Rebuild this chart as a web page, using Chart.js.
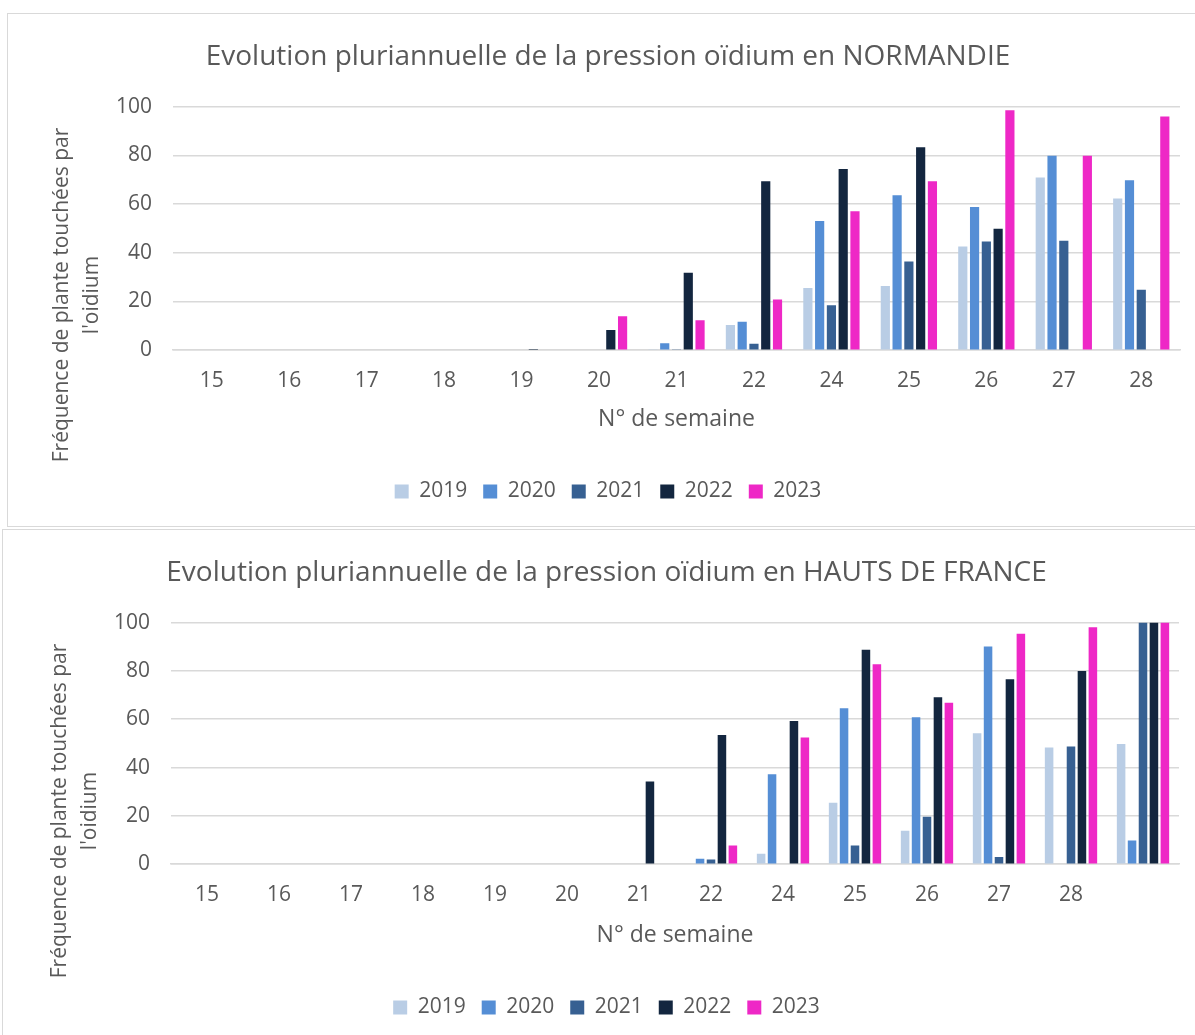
<!DOCTYPE html>
<html>
<head>
<meta charset="utf-8">
<script src="https://cdn.jsdelivr.net/npm/chart.js@4.4.1/dist/chart.umd.min.js"></script>
<style>
  body { margin: 0; background: #fff; width: 1195px; height: 1035px; overflow: hidden; position: relative; }
  .box { position: absolute; border: 1.5px solid #d9d9d9; background: #fff; }
  #box1 { left: 7px; top: 13px; width: 1200px; height: 512px; }
  #box2 { left: 2px; top: 529px; width: 1205px; height: 520px; }
  .box canvas { position: absolute; left: 0; top: 0; }
</style>
</head>
<body>
<div class="box" id="box1"><canvas id="chartNormandie" width="1187" height="512"></canvas></div>
<div class="box" id="box2"><canvas id="chartHdf" width="1192" height="512"></canvas></div>
<script>
// semaines (la semaine 23 est absente des deux graphiques)
var weeksNormandie = ["15", "16", "17", "18", "19", "20", "21", "22", "24", "25", "26", "27", "28"];
var weeksHdf = ["15", "16", "17", "18", "19", "20", "21", "22", "24", "25", "26", "27", "28", ""];
var years = ["2019", "2020", "2021", "2022", "2023"];

// Normandie
var norm2019 = [0, 0, 0, 0, 0, 0, 0.4, 10.3, 25.5, 26.4, 42.6, 70.9, 62.3];
var norm2020 = [0, 0, 0, 0, 0, 0, 2.9, 11.7, 53, 63.6, 58.8, 79.8, 69.8];
var norm2021 = [0, 0, 0, 0, 0, 0, 0.4, 2.6, 18.5, 36.4, 44.6, 44.9, 24.8];
var norm2022 = [0, 0, 0, 0, 0.5, 8.3, 31.8, 69.4, 74.4, 83.3, 49.9, 0, 0];
var norm2023 = [0, 0, 0, 0, 0, 13.9, 12.3, 20.8, 57, 69.4, 98.5, 79.8, 95.9];

// Hauts de France
var hdf2019 = [0, 0, 0, 0, 0, 0, 0, 0, 4.3, 25.4, 13.8, 54.2, 48.3, 49.8];
var hdf2020 = [0, 0, 0, 0, 0, 0, 0, 2.3, 37.2, 64.6, 60.8, 90.1, 0, 9.8];
var hdf2021 = [0, 0, 0, 0, 0, 0, 0, 1.9, 0, 7.7, 19.6, 3, 48.7, 100];
var hdf2022 = [0, 0, 0, 0, 0, 0.3, 34.2, 53.5, 59.3, 88.8, 69.1, 76.6, 80, 100];
var hdf2023 = [0, 0, 0, 0, 0, 0, 0, 7.7, 52.4, 82.8, 66.8, 95.4, 98.1, 100];

var yTicks = [0, 20, 40, 60, 80, 100];

var colors = ["#B9CDE5", "#558ED5", "#376092", "#13263F", "#EE28C6"];
var textColor = "#595959";
var gridColor = "#d9d9d9";
var fontFamily = "'Open Sans', 'Noto Sans', sans-serif";

Chart.defaults.font.family = fontFamily;
Chart.defaults.color = textColor;

// titre de l'axe Y sur deux lignes, centré plus bas que la zone de tracé (comme dans Excel)
var yTitlePlugin = {
  id: "yTitle",
  afterDraw: function (chart, args, opts) {
    var ctx = chart.ctx;
    ctx.save();
    ctx.fillStyle = textColor;
    ctx.font = "21px " + fontFamily;
    ctx.textAlign = "center";
    ctx.textBaseline = "middle";
    ctx.translate(opts.x, opts.y);
    ctx.rotate(-Math.PI / 2);
    opts.lines.forEach(function (line, i) {
      ctx.fillText(line, 0, i * 30);
    });
    ctx.restore();
  },
};

function makeChart(id, title, labels, series, pad, yWidth, yTitleX) {
  var ctx = document.getElementById(id).getContext("2d");
  return new Chart(ctx, {
    type: "bar",
    data: {
      labels: labels,
      datasets: series.map(function (values, i) {
        return {
          label: years[i],
          data: values,
          backgroundColor: colors[i],
          borderWidth: 0,
          barPercentage: 0.78,
          categoryPercentage: 0.76,
        };
      }),
    },
    plugins: [yTitlePlugin],
    options: {
      responsive: false,
      animation: false,
      layout: { padding: { left: pad.left, right: pad.right, top: 26, bottom: 14 } },
      plugins: {
        title: {
          display: true,
          text: title,
          color: textColor,
          font: { size: 28, weight: "normal" },
          padding: { top: 0, bottom: 33 },
        },
        legend: {
          position: "bottom",
          labels: { boxWidth: 14, boxHeight: 14, padding: 16, color: textColor, font: { size: 21 } },
        },
        tooltip: { enabled: false },
        yTitle: { x: yTitleX, y: 281, lines: ["Fréquence de plante touchées par", "l'oidium"] },
      },
      scales: {
        x: {
          grid: { display: false },
          border: { color: gridColor, width: 1.5 },
          ticks: { color: textColor, font: { size: 21 }, padding: 10 },
          title: {
            display: true,
            text: "N° de semaine",
            color: textColor,
            font: { size: 23 },
            padding: { top: pad.xTitle, bottom: 32 },
          },
        },
        y: {
          min: 0,
          max: 100,
          afterBuildTicks: function (axis) {
            axis.ticks = yTicks.map(function (v) { return { value: v }; });
          },
          afterFit: function (axis) {
            axis.width = yWidth;
          },
          ticks: { color: textColor, font: { size: 21 }, padding: 21 },
          grid: { color: gridColor, lineWidth: 1.5, drawTicks: false },
          border: { display: false },
        },
      },
    },
  });
}

makeChart("chartNormandie", "Evolution pluriannuelle de la pression oïdium en NORMANDIE", weeksNormandie,
  [norm2019, norm2020, norm2021, norm2022, norm2023], { left: 28, right: 15, xTitle: 2 }, 137, 54);
makeChart("chartHdf", "Evolution pluriannuelle de la pression oïdium en HAUTS DE FRANCE", weeksHdf,
  [hdf2019, hdf2020, hdf2021, hdf2022, hdf2023], { left: 31, right: 16, xTitle: 4 }, 137, 57);
</script>
</body>
</html>
